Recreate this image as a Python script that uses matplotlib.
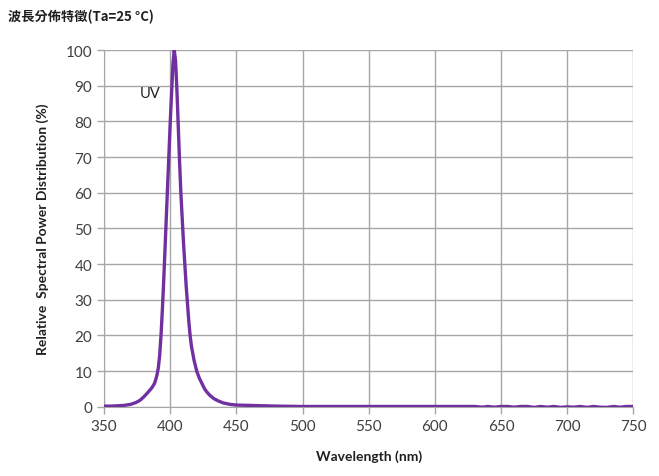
import matplotlib.pyplot as plt

# wavelength (nm) and relative power (%)
wavelength = [350, 355, 360, 365, 370, 374, 377, 380, 383, 386, 388, 389, 390,
              391, 392, 393, 394, 395, 396, 397, 398, 399, 400, 401, 402, 403,
              404, 405, 406, 407, 408, 409, 410, 411, 412, 413, 414, 415, 416,
              418, 420, 422, 424, 426, 428, 430, 433, 436, 440, 445, 450, 460,
              470, 480, 500, 550, 600, 630, 636, 640, 645, 650, 655, 660, 665,
              670, 675, 680, 685, 690, 695, 700, 705, 710, 715, 720, 725, 730,
              735, 740, 745, 750]
power = [0.2, 0.2, 0.3, 0.4, 0.7, 1.2, 1.8, 2.8, 4.0, 5.3, 6.5, 7.6, 9.0,
         11, 14.5, 20, 27, 35, 44, 53, 62, 71, 80, 88, 96, 100,
         97, 89, 79, 69, 60, 53, 46, 40, 34, 29, 24, 20, 17,
         13, 10, 8.0, 6.5, 5.0, 4.0, 3.2, 2.3, 1.7, 1.1, 0.7, 0.5, 0.4,
         0.3, 0.2, 0.1, 0.1, 0.1, 0.1, -0.1, 0.1, -0.1, 0.1, 0.1, -0.1, 0.1,
         0.1, -0.15, 0.1, -0.1, 0.1, -0.15, 0.0, -0.1, 0.1, -0.15, 0.1, -0.1, -0.15,
         0.1, -0.1, 0.1, 0.1]

xticks = [350, 400, 450, 500, 550, 600, 650, 700, 750]
yticks = [0, 10, 20, 30, 40, 50, 60, 70, 80, 90, 100]

fig = plt.figure(figsize=(6.59, 4.77), dpi=100)
ax = fig.add_axes([0.158, 0.145, 0.803, 0.748])

ax.plot(wavelength, power, color="#7030A0", linewidth=2.4, zorder=3)

ax.set_xlim(350, 750)
ax.set_ylim(0, 100)
ax.set_xticks(xticks)
ax.set_yticks(yticks)
ax.grid(True, color="#A6A6A6", linewidth=1.0)
for s in ["top", "right"]:
    ax.spines[s].set_visible(False)
for s in ["left", "bottom"]:
    ax.spines[s].set_color("#A6A6A6")
ax.tick_params(colors="#A6A6A6", labelcolor="#404040", labelsize=11,
               length=5, width=1.0)
for lab in ax.get_xticklabels() + ax.get_yticklabels():
    lab.set_family("Lato")

ax.set_xlabel("Wavelength (nm)", fontsize=10, fontweight="bold",
              family="Lato", color="#202020", labelpad=12)
ax.set_ylabel("Relative  Spectral Power Distribution (%)", fontsize=10,
              fontweight="bold", family="Lato", color="#202020", labelpad=12)

ax.text(385, 88, "UV", fontsize=10.5, family="Lato", color="#202020",
        ha="center", va="center")

fig.text(0.012, 0.965, "波長分佈特徵(Ta=25 °C)", fontsize=9.5, fontweight="bold",
         family=["Noto Sans CJK TC", "DejaVu Sans"], color="#202020",
         ha="left", va="center")

fig.savefig("out.png", dpi=100)
